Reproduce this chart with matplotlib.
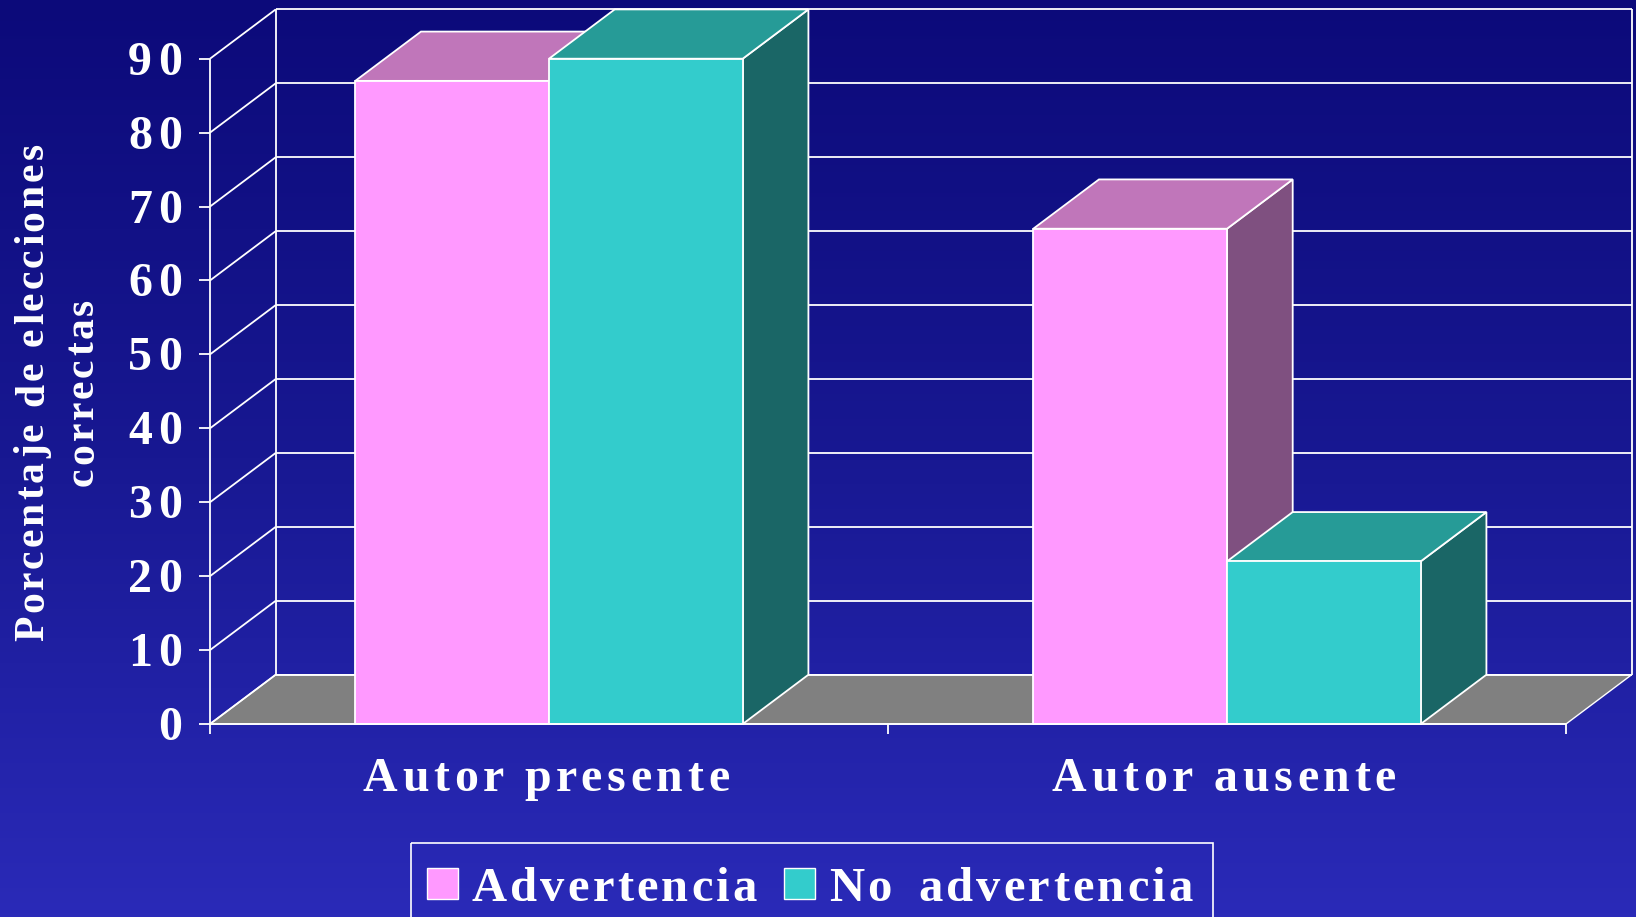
import numpy as np
import matplotlib
matplotlib.use('Agg')
import matplotlib.pyplot as plt
from matplotlib.patches import Polygon, Rectangle
from matplotlib.colors import LinearSegmentedColormap
from matplotlib.font_manager import FontProperties

# ---------------- data ----------------
categories = ['Autor presente', 'Autor ausente']
series_names = ['Advertencia', 'No advertencia']
advertencia = [87, 67]
no_advertencia = [90, 22]
y_ticks = [0, 10, 20, 30, 40, 50, 60, 70, 80, 90]
y_label_lines = ['Porcentaje de elecciones', 'correctas']

# ---------------- style / layout ----------------
W, H, DPI = 1636, 917, 100
face_colors = {
    'Advertencia': ('#ff99ff', '#c076ba', '#7f5080'),      # front, top, side
    'No advertencia': ('#33cccc', '#269b97', '#1a6666'),
}
FX0, FX1 = 210.0, 1566.0       # front category axis ends (px)
FY0, FYTOP = 724.0, 58.7       # y=0 and y=max on front plane (px from top)
DEPTH_PX = (65.7, 49.3)        # 3D depth offset (px)
YMAX = 90
LW = 1.3

fig = plt.figure(figsize=(W / DPI, H / DPI), dpi=DPI)

# background gradient
bg = fig.add_axes([0, 0, 1, 1])
bg.axis('off')
grad = np.linspace(0, 1, 256).reshape(-1, 1)
cmap = LinearSegmentedColormap.from_list('bg', ['#0c0a7a', '#181892', '#2a2ab8'])
bg.imshow(grad, aspect='auto', cmap=cmap, extent=[0, 1, 0, 1], origin='upper')

# main (front plane) axes
n = len(categories)
ax = fig.add_axes([FX0 / W, 1 - FY0 / H, (FX1 - FX0) / W, (FY0 - FYTOP) / H])
ax.set_xlim(0, n)
ax.set_ylim(0, YMAX)
ax.axis('off')
px_x = n / (FX1 - FX0)
px_y = YMAX / (FY0 - FYTOP)
DX, DY = DEPTH_PX[0] * px_x, DEPTH_PX[1] * px_y

def line(xs, ys, z=2, lw=LW):
    ax.plot(xs, ys, color='white', lw=lw, clip_on=False, zorder=z,
            solid_capstyle='butt')

# floor
ax.add_patch(Polygon([(0, 0), (n, 0), (n + DX, DY), (DX, DY)], closed=True,
                     fc='#808080', ec='white', lw=1.0, zorder=1, clip_on=False))
# walls grid
for v in y_ticks:
    line([DX, n + DX], [v + DY, v + DY])
    line([0, DX], [v, v + DY])
line([DX, DX], [DY, YMAX + DY])
line([n + DX, n + DX], [DY, YMAX + DY])

# bars
bar_w = 1 / 3.5
series_vals = [advertencia, no_advertencia]
z = 5
for i in range(n):
    c = i + 0.5
    for k, (name, vals) in enumerate(zip(series_names, series_vals)):
        x0 = c - bar_w + k * bar_w
        x1 = x0 + bar_w
        v = vals[i]
        fcol, tcol, scol = face_colors[name]
        ax.add_patch(Polygon([(x1, 0), (x1 + DX, DY), (x1 + DX, v + DY), (x1, v)],
                             closed=True, fc=scol, ec='white', lw=LW, zorder=z, clip_on=False))
        ax.add_patch(Polygon([(x0, v), (x1, v), (x1 + DX, v + DY), (x0 + DX, v + DY)],
                             closed=True, fc=tcol, ec='white', lw=LW, zorder=z, clip_on=False))
        ax.add_patch(Rectangle((x0, 0), bar_w, v, fc=fcol, ec='white', lw=LW,
                               zorder=z + 0.5, clip_on=False))
        z += 1

# front axes and ticks
line([0, 0], [0, YMAX], z=20)
line([0, n], [0, 0], z=20)
for v in y_ticks:
    line([-11 * px_x, 0], [v, v], z=20)
for i in range(n + 1):
    line([i, i], [0, -10 * px_y], z=20)

# ---------------- text overlay (pixel coords) ----------------
ov = fig.add_axes([0, 0, 1, 1])
ov.set_xlim(0, W)
ov.set_ylim(H, 0)
ov.axis('off')
renderer = fig.canvas.get_renderer()

def ink_w(s, fp):
    if not s.strip():
        return 0.0
    w, h, d = renderer.get_text_width_height_descent(s, fp, ismath=False)
    return w

def spaced_text(x, y, s, fp, track, ha='left', rotation=0, space_extra=0.0):
    nsp = s.count(' ')
    total = ink_w(s, fp) + (len(s) - 1) * track + nsp * space_extra
    start = {'left': 0.0, 'center': -total / 2, 'right': -total}[ha]
    for i, ch in enumerate(s):
        if ch == ' ':
            continue
        off = (start + ink_w(s[:i + 1], fp) - ink_w(ch, fp) + i * track
               + s[:i].count(' ') * space_extra)
        if rotation == 90:
            ov.text(x, y - off, ch, fontproperties=fp, color='white', rotation=90,
                    rotation_mode='anchor', ha='left', va='baseline')
        else:
            ov.text(x + off, y, ch, fontproperties=fp, color='white',
                    ha='left', va='baseline')

FAM = 'Liberation Serif'
fp_tick = FontProperties(family=FAM, weight='bold', size=34.5)
fp_cat = FontProperties(family=FAM, weight='bold', size=34.5)
fp_leg = FontProperties(family=FAM, weight='bold', size=35)
fp_ylab = FontProperties(family=FAM, weight='bold', size=30)

# y tick labels
w0, h0, d0 = renderer.get_text_width_height_descent('0', fp_tick, ismath=False)
for v in y_ticks:
    ty = FY0 - v / px_y
    spaced_text(182, ty + (h0 - d0) / 2, str(v), fp_tick, 6, ha='right')

# category labels
for i, cat in enumerate(categories):
    cx = FX0 + (i + 0.5) / px_x - 3
    spaced_text(cx, 791, cat, fp_cat, 4.7, ha='center')

# y label
spaced_text(43, 392, y_label_lines[0], fp_ylab, 3.0, ha='center', rotation=90)
spaced_text(93, 392, y_label_lines[1], fp_ylab, 3.0, ha='center', rotation=90)

# legend
ov.add_patch(Rectangle((411, 843), 802, 120, fc='none', ec='white', lw=1.2))
leg_boxes = [(427, 868, 30.5, 31), (784, 868, 31, 31)]
leg_text_x = [471.6, 829]
for name, (bx, by, bw, bh), tx in zip(series_names, leg_boxes, leg_text_x):
    ov.add_patch(Rectangle((bx, by), bw, bh, fc=face_colors[name][0], ec='white', lw=1.0))
    spaced_text(tx, 900.7, name, fp_leg, 3.2, ha='left', space_extra=8)

fig.savefig('out.png', dpi=DPI)
